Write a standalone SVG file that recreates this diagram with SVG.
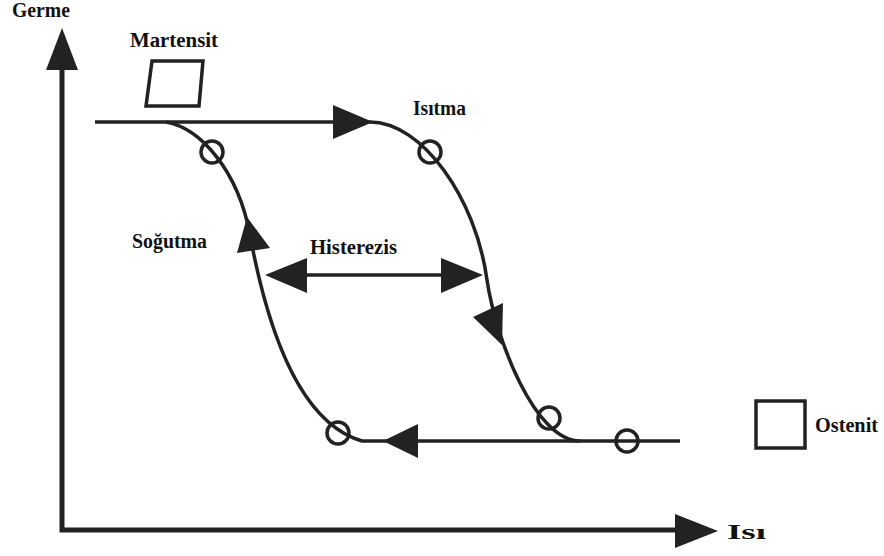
<svg xmlns="http://www.w3.org/2000/svg" width="884" height="556" viewBox="0 0 884 556">
  <style>
    .lbl { font-family: "Liberation Serif", "Times New Roman", serif; font-weight: bold; font-size: 20px; fill: #111; }
    .ln { fill: none; stroke: #222; stroke-width: 3.5; }
    .ax { fill: none; stroke: #222; stroke-width: 5; }
    .head { fill: #222; stroke: none; }
    .ring { fill: none; stroke: #222; stroke-width: 3.5; }
    .cell { fill: none; stroke: #222; stroke-width: 3.5; }
  </style>
  <rect width="884" height="556" fill="#fff"/>

  <!-- axes -->
  <g id="axes">
    <polyline class="ax" points="62,68 62,530 678,530"/>
    <polygon class="head" points="62,28 46,70 78,70"/>
    <polygon class="head" points="718,531 675,514 675,548"/>
    <text class="lbl" x="12" y="17" textLength="58" lengthAdjust="spacingAndGlyphs">Germe</text>
    <text class="lbl" x="727" y="539" font-size="28" textLength="39" lengthAdjust="spacingAndGlyphs">Isı</text>
  </g>

  <!-- phase symbols -->
  <g id="martensit">
    <polygon class="cell" points="152,61 203,61 199,106 146,106"/>
    <text class="lbl" x="130" y="47" textLength="88" lengthAdjust="spacingAndGlyphs">Martensit</text>
  </g>
  <g id="ostenit">
    <rect class="cell" x="756" y="401" width="49" height="47"/>
    <text class="lbl" x="815" y="432" textLength="63" lengthAdjust="spacingAndGlyphs">Ostenit</text>
  </g>

  <!-- heating / cooling branches -->
  <g id="connectors">
    <!-- upper plateau and heating branch -->
    <path class="ln" d="M95 122 H370 C422 122 476 198 487 280 C496 340 535 441 580 441"/>
    <polygon class="head" points="333,105 333,139 373,122"/>
    <polygon class="head" points="473,317 503,303 502,345"/>
    <!-- lower plateau and cooling branch -->
    <path class="ln" d="M680 441 H362 C290 420 262 300 250 235 C238 170 200 128 166 122"/>
    <polygon class="head" points="383,441 418,424 418,458"/>
    <polygon class="head" points="247,217 237,253 270,248"/>
    <!-- hysteresis width -->
    <line class="ln" x1="300" y1="275" x2="450" y2="275"/>
    <polygon class="head" points="265,275 307,258 307,293"/>
    <polygon class="head" points="483,275 441,258 441,293"/>
  </g>

  <g id="markers">
    <circle class="ring" cx="212" cy="152" r="11"/>
    <circle class="ring" cx="430" cy="152" r="11"/>
    <circle class="ring" cx="338" cy="433" r="11"/>
    <circle class="ring" cx="549" cy="418" r="11"/>
    <circle class="ring" cx="627" cy="441" r="11"/>
  </g>

  <g id="labels">
    <text class="lbl" x="413" y="115" textLength="53" lengthAdjust="spacingAndGlyphs">Isıtma</text>
    <text class="lbl" x="132" y="248" textLength="75" lengthAdjust="spacingAndGlyphs">Soğutma</text>
    <text class="lbl" x="310" y="254" textLength="87" lengthAdjust="spacingAndGlyphs">Histerezis</text>
  </g>
</svg>
